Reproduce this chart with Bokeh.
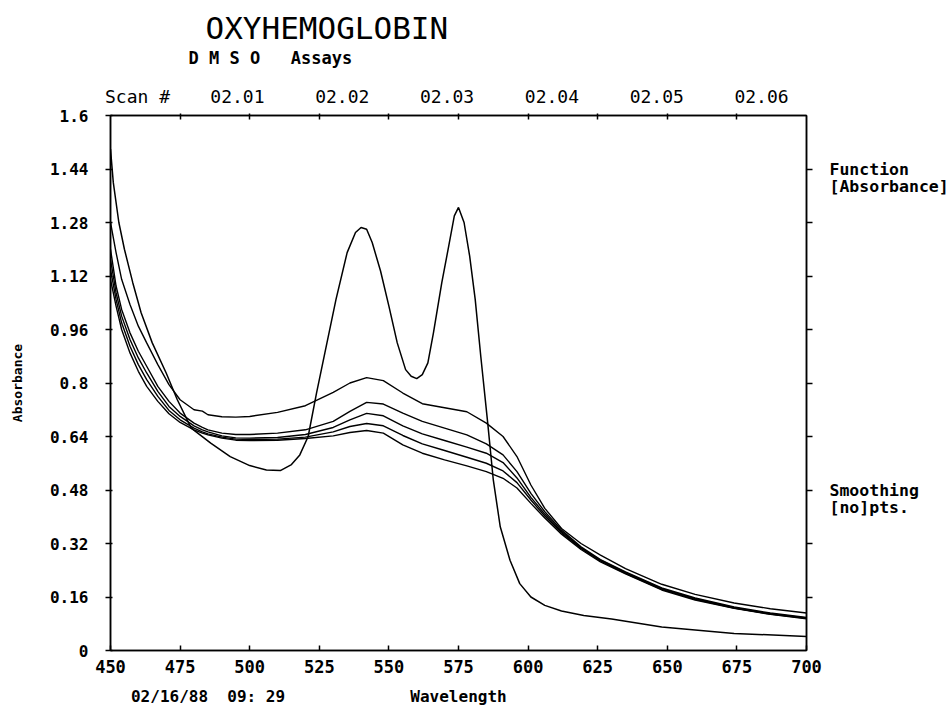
import math
from bokeh.plotting import figure
from bokeh.models import Range1d, LinearAxis, FixedTicker, Title
from bokeh.embed import file_html
from bokeh.resources import INLINE

# ---------------- data ----------------
x_ticks = [450, 475, 500, 525, 550, 575, 600, 625, 650, 675, 700]
y_ticks = [0, 0.16, 0.32, 0.48, 0.64, 0.8, 0.96, 1.12, 1.28, 1.44, 1.6]
y_tick_labels = ["0", "0.16", "0.32", "0.48", "0.64", "0.8", "0.96", "1.12", "1.28", "1.44", "1.6"]
scan_idx = [1, 2, 3, 4, 5, 6]
scan_labels = ["02.01", "02.02", "02.03", "02.04", "02.05", "02.06"]
scan_caption = "Scan #"
title_text = "OXYHEMOGLOBIN"
subtitle_text = "D M S O\u00a0\u00a0\u00a0Assays"
x_label = "Wavelength"
y_label = "Absorbance"
date_text = "02/16/88\u00a0\u00a009:\u00a029"
side_notes = ["Function", "[Absorbance]", "Smoothing", "[no]pts."]

# oxyhemoglobin scan
wl_oxy = [450, 451, 453, 455, 458, 461, 465, 470, 474, 479, 486, 493, 500, 506, 511, 515,
          518, 521, 524, 527, 531, 535, 538, 540, 542, 544, 547, 550, 553, 556, 558, 560,
          562, 564, 566, 569, 571.5, 573.5, 575, 577, 579, 581, 583, 585.5, 587.5, 590,
          593.5, 597, 601, 606, 612, 620, 630, 648, 674, 700]
abs_oxy = [1.50, 1.40, 1.28, 1.20, 1.10, 1.01, 0.92, 0.83, 0.75, 0.665, 0.62, 0.58, 0.553, 0.54, 0.538, 0.556,
           0.585, 0.64, 0.77, 0.89, 1.05, 1.19, 1.25, 1.265, 1.26, 1.22, 1.135, 1.03, 0.92, 0.84, 0.82, 0.813,
           0.825, 0.86, 0.95, 1.10, 1.21, 1.30, 1.325, 1.28, 1.18, 1.05, 0.88, 0.68, 0.51, 0.37,
           0.27, 0.20, 0.16, 0.135, 0.118, 0.105, 0.094, 0.070, 0.051, 0.042]

# DMSO scans (common wavelength grid)
wl_dmso = [450, 452, 454, 457, 460, 463, 467, 471, 475, 480, 483, 485, 490, 495, 500, 510, 520,
           530, 536, 542, 548, 555, 562, 570, 578, 585, 591, 596, 601, 606, 612, 619, 626,
           635, 648, 660, 674, 687, 700]
abs_scan_a = [1.28, 1.19, 1.11, 1.035, 0.97, 0.92, 0.855, 0.795, 0.75, 0.72, 0.716, 0.705, 0.699, 0.698, 0.700, 0.712, 0.732,
              0.772, 0.800, 0.816, 0.807, 0.770, 0.738, 0.726, 0.714, 0.680, 0.640, 0.580, 0.495, 0.425, 0.365, 0.320, 0.285,
              0.245, 0.198, 0.168, 0.142, 0.125, 0.112]
abs_scan_b = [1.20, 1.09, 1.02, 0.95, 0.895, 0.85, 0.79, 0.745, 0.71, 0.68, 0.667, 0.66, 0.65, 0.646, 0.646, 0.650, 0.660,
              0.685, 0.715, 0.742, 0.737, 0.710, 0.685, 0.665, 0.645, 0.618, 0.585, 0.535, 0.470, 0.415, 0.360, 0.310, 0.272,
              0.235, 0.187, 0.157, 0.130, 0.112, 0.099]
abs_scan_c = [1.17, 1.07, 1.00, 0.93, 0.875, 0.83, 0.775, 0.73, 0.70, 0.672, 0.66, 0.654, 0.642, 0.636, 0.635, 0.637, 0.646,
              0.667, 0.690, 0.709, 0.702, 0.672, 0.648, 0.628, 0.608, 0.590, 0.562, 0.516, 0.458, 0.408, 0.356, 0.307, 0.270,
              0.233, 0.185, 0.155, 0.128, 0.110, 0.097]
abs_scan_d = [1.14, 1.05, 0.98, 0.91, 0.855, 0.81, 0.76, 0.718, 0.69, 0.665, 0.654, 0.648, 0.638, 0.632, 0.631, 0.632, 0.638,
              0.654, 0.670, 0.679, 0.672, 0.643, 0.618, 0.598, 0.578, 0.560, 0.537, 0.502, 0.450, 0.402, 0.352, 0.305, 0.268,
              0.231, 0.183, 0.153, 0.127, 0.109, 0.096]
abs_scan_e = [1.11, 1.03, 0.96, 0.89, 0.835, 0.79, 0.745, 0.708, 0.682, 0.66, 0.65, 0.645, 0.635, 0.629, 0.628, 0.629, 0.634,
              0.642, 0.652, 0.658, 0.650, 0.615, 0.590, 0.570, 0.552, 0.535, 0.515, 0.486, 0.440, 0.396, 0.348, 0.302, 0.265,
              0.229, 0.181, 0.151, 0.126, 0.108, 0.095]

# ---------------- layout ----------------
W, H = 952, 709
FX0, FY0 = 110, 115          # frame top-left in page pixels
FW, FH = 696, 535             # frame size
XMIN, XMAX, YMIN, YMAX = 450, 700, 0, 1.6
PX_PER_Y = FH / (YMAX - YMIN)

MONO = "DejaVu Sans Mono"

p = figure(width=W, height=H,
           x_range=Range1d(XMIN, XMAX), y_range=Range1d(YMIN, YMAX),
           output_backend="svg", toolbar_location=None,
           x_axis_location=None, y_axis_location=None,
           min_border_left=FX0, min_border_top=FY0,
           min_border_right=W - FX0 - FW, min_border_bottom=H - FY0 - FH)
p.grid.visible = False
p.outline_line_color = "black"
p.outline_line_width = 1.5
p.background_fill_color = "white"
p.border_fill_color = "white"

# scan-number range for the top axis
scan_first_wl = 495.6
scan_step_wl = 37.65
scan_caption_wl = 459.7
p.extra_x_ranges = {"scan": Range1d(1 + (XMIN - scan_first_wl) / scan_step_wl,
                                    1 + (XMAX - scan_first_wl) / scan_step_wl)}
caption_pos = round(1 + (scan_caption_wl - scan_first_wl) / scan_step_wl, 4)

# bottom axis (label row also carries the date, monospaced so "Wavelength" stays centred)
pad = "\u00a0" * 13
bottom_label = date_text + pad + x_label + "\u00a0" * (13 + 16)
bottom = LinearAxis(ticker=FixedTicker(ticks=x_ticks),
                    major_tick_in=5, major_tick_out=0, minor_tick_line_color=None,
                    major_label_standoff=9, axis_line_width=1.5, major_tick_line_width=1.5,
                    major_label_text_font=MONO, major_label_text_font_style="bold",
                    major_label_text_font_size="17px", major_label_text_color="black",
                    axis_label=bottom_label, axis_label_standoff=11,
                    axis_label_text_font=MONO, axis_label_text_font_style="bold",
                    axis_label_text_font_size="16px", axis_label_text_color="black")
p.add_layout(bottom, "below")

left = LinearAxis(ticker=FixedTicker(ticks=y_ticks),
                  major_label_overrides=dict(zip(y_ticks, y_tick_labels)),
                  major_tick_in=2, major_tick_out=5, minor_tick_line_color=None,
                  major_label_standoff=17, axis_line_width=1.5, major_tick_line_width=1.5,
                  major_label_text_font=MONO, major_label_text_font_style="bold",
                  major_label_text_font_size="16px", major_label_text_color="black",
                  axis_label=y_label, axis_label_standoff=22,
                  axis_label_text_font=MONO, axis_label_text_font_style="bold",
                  axis_label_text_font_size="13px", axis_label_text_color="black")
p.add_layout(left, "left")

# right axis: tick marks as minor ticks, side notes as labelled rows
note_rows = [1.44, round(1.44 - 18 / PX_PER_Y, 4), 0.48, round(0.48 - 18 / PX_PER_Y, 4)]
right = LinearAxis(ticker=FixedTicker(ticks=note_rows, minor_ticks=y_ticks[1:-1]),
                   major_label_overrides=dict(zip(note_rows, side_notes)),
                   major_tick_line_color=None, major_tick_in=0, major_tick_out=0,
                   minor_tick_in=0, minor_tick_out=6, minor_tick_line_width=1.5,
                   major_label_standoff=17, axis_line_width=1.5,
                   major_label_text_font=MONO, major_label_text_font_style="bold",
                   major_label_text_font_size="16.5px", major_label_text_color="black")
p.add_layout(right, "right")

top_minor = [1 + (w - scan_first_wl) / scan_step_wl for w in x_ticks[1:-1]]
top_ticks = [caption_pos] + scan_idx
top = LinearAxis(x_range_name="scan",
                 ticker=FixedTicker(ticks=top_ticks, minor_ticks=top_minor),
                 major_label_overrides=dict(zip(top_ticks, [scan_caption] + scan_labels)),
                 major_tick_line_color=None, major_tick_in=0, major_tick_out=0,
                 minor_tick_in=4, minor_tick_out=2,
                 minor_tick_line_width=1.5, axis_line_width=1.5,
                 major_label_standoff=7,
                 major_label_text_font=MONO, major_label_text_font_size="18px",
                 major_label_text_color="black")
p.add_layout(top, "above")

p.add_layout(Title(text=subtitle_text, align="left", offset=188 - FX0, standoff=30,
                   text_font=MONO, text_font_style="bold", text_font_size="17px",
                   text_color="black"), "above")
try:
    main_title = Title(text=title_text, align="left", offset=205 - FX0, standoff=-30,
                       text_font=MONO, text_font_style="normal", text_font_size="31px",
                       text_color="black")
except Exception:
    main_title = Title(text=title_text, align="left", offset=205 - FX0, standoff=0,
                       text_font=MONO, text_font_style="normal", text_font_size="31px",
                       text_color="black")
p.add_layout(main_title, "above")

# ---------------- curves ----------------
for ys in [abs_scan_a, abs_scan_b, abs_scan_c, abs_scan_d, abs_scan_e]:
    p.line(wl_dmso, ys, line_color="black", line_width=1.4)
p.line(wl_oxy, abs_oxy, line_color="black", line_width=1.5)

open("out.html", "w").write(file_html(p, INLINE))
